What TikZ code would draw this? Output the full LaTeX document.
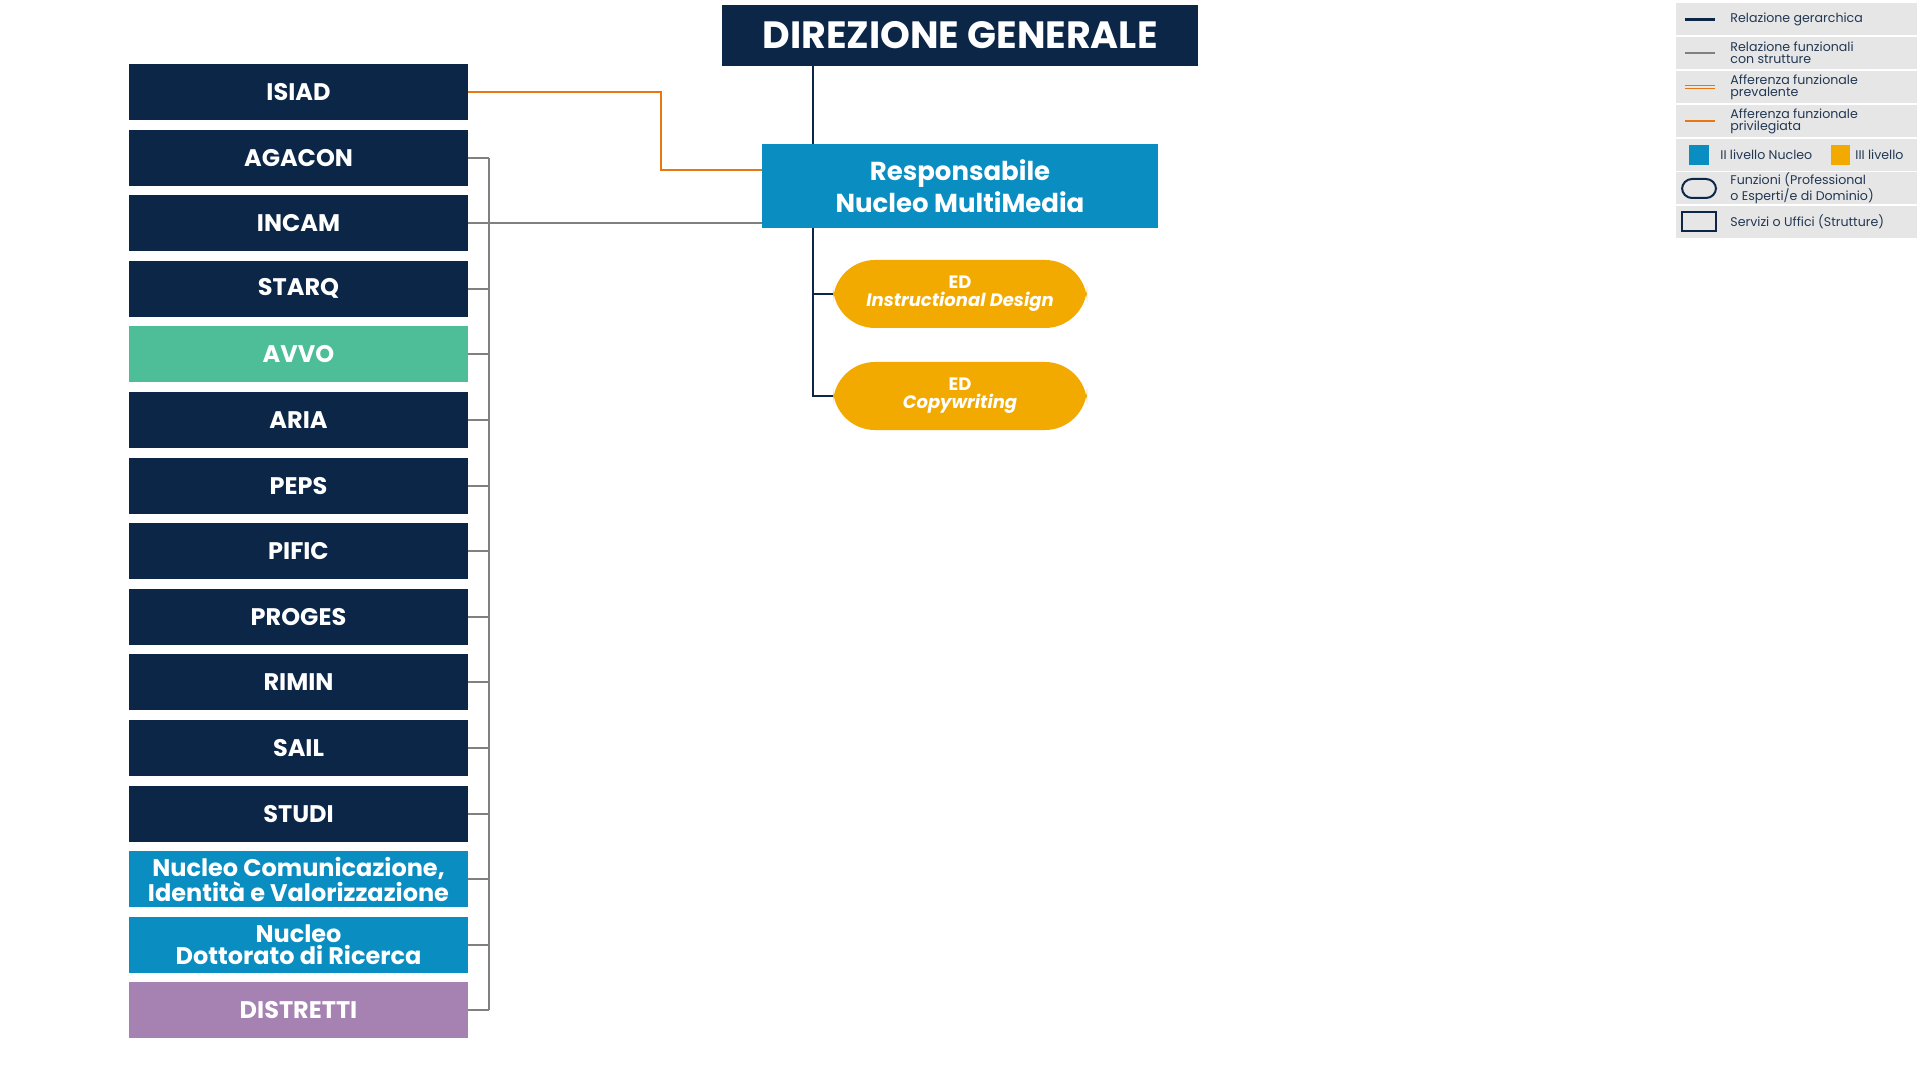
\documentclass[tikz,border=0pt]{standalone}
\usepackage{fontspec}
\setmainfont{Poppins}
\definecolor{dNavy}{HTML}{0C2648}
\definecolor{dBlue}{HTML}{0A8DC1}
\definecolor{dGreen}{HTML}{4DBE97}
\definecolor{dPurple}{HTML}{A682B3}
\definecolor{dGold}{HTML}{F2A900}
\definecolor{dOrange}{HTML}{E8770F}
\definecolor{dGray}{HTML}{808080}
\definecolor{dLegend}{HTML}{E6E6E6}
\tikzset{
  unitbox/.style={fill=#1, text=white, minimum width=169.5pt, minimum height=28pt,
    inner sep=1pt, align=center, font=\fontsize{12}{11}\selectfont\bfseries},
  edbox/.style={fill=dGold, text=white, rounded corners=21pt, minimum width=127pt,
    minimum height=34pt, align=center, font=\fontsize{9}{9}\selectfont\bfseries},
  hier/.style={dNavy, line width=1.3pt},
  func/.style={dGray, line width=1pt},
  priv/.style={dOrange, line width=1pt},
  legrow/.style={fill=dLegend, draw=white, line width=0.5pt},
  legtext/.style={anchor=west, text=dNavy!80!gray, align=left,
    font=\fontsize{6.3}{6}\selectfont, inner sep=0pt}
}
\begin{document}
\begin{tikzpicture}[x=0.5pt,y=-0.5pt]
  \useasboundingbox (0,0) rectangle (1920,1080);
  % Top of the chart
  \node[unitbox=dNavy, minimum width=238pt, minimum height=30.5pt,
    font=\fontsize{19}{19}\selectfont\bfseries] (dg) at (960,35.5) {DIREZIONE GENERALE};
  \node[unitbox=dBlue, minimum width=198pt, minimum height=42pt,
    font=\fontsize{13}{16}\selectfont\bfseries] (resp) at (960,186) {Responsabile\\Nucleo MultiMedia};
  \node[edbox] (ed1) at (960,294) {ED\\\itshape Instructional Design};
  \node[edbox] (ed2) at (960,396) {ED\\\itshape Copywriting};
  \draw[hier] (dg.south -| 813,0) -- (resp.north -| 813,0);
  \draw[hier] (resp.south -| 813,0) |- (ed1.west);
  \draw[hier] (resp.south -| 813,0) |- (ed2.west);
  % Units on the left
  \foreach \name/\col [count=\i] in {ISIAD/dNavy, AGACON/dNavy, INCAM/dNavy, STARQ/dNavy,
      AVVO/dGreen, ARIA/dNavy, PEPS/dNavy, PIFIC/dNavy, PROGES/dNavy, RIMIN/dNavy,
      SAIL/dNavy, STUDI/dNavy, {Nucleo Comunicazione,\\Identità e Valorizzazione}/dBlue,
      {Nucleo\\Dottorato di Ricerca}/dBlue, DISTRETTI/dPurple} {
    \node[unitbox=\col] (b\i) at (298.5,26.4+65.6*\i) {\name};
  }
  \node[unitbox=dBlue, font=\fontsize{12}{11}\selectfont\bfseries] at (b13) {Nucleo Comunicazione,\\Identità e Valorizzazione};
  \coordinate (bus) at (489,0);
  \foreach \i in {2,...,15} {
    \draw[func] (b\i.east) -- (b\i.east -| bus);
  }
  \draw[func] (b2.east -| bus) -- (b15.east -| bus);
  \draw[func] (b3.east) -- (resp.west |- b3.east);
  \draw[priv] (b1.east) -| (661,170) -- (resp.west |- 0,170);
  % Legend
  \foreach \top in {3,37,71,105,139,172,206} {
    \draw[legrow] (1675,\top) rectangle (1917,\top+33);
  }
  \draw[hier] (1685,19.5) -- (1715,19.5);
  \node[legtext] (l1) at (1730,19.5) {Relazione gerarchica};
  \draw[func] (1685,53) -- (1715,53);
  \node[legtext] (l2) at (1730,53) {Relazione funzionali\\con strutture};
  \draw[dOrange, line width=0.5pt] (1685,86) -- (1715,86);
  \draw[dOrange, line width=0.5pt] (1685,89) -- (1715,89);
  \node[legtext] (l3) at (1730,87.5) {Afferenza funzionale\\prevalente};
  \draw[priv] (1685,121) -- (1715,121);
  \node[legtext] (l4) at (1730,121) {Afferenza funzionale\\privilegiata};
  \fill[dBlue] (1689,145) rectangle (1709,165);
  \node[legtext] (l5) at (1720,155) {II livello Nucleo};
  \fill[dGold] (1831,145) rectangle (1850,165);
  \node[legtext] (l6) at (1855,155) {III livello};
  \draw[dNavy, line width=1pt, rounded corners=5pt] (1682,179) rectangle (1716,198);
  \node[legtext] (l7) at (1730,188.5) {Funzioni (Professional\\o Esperti/e di Dominio)};
  \draw[dNavy, line width=1pt] (1682,212) rectangle (1716,231);
  \node[legtext] (l8) at (1730,222) {Servizi o Uffici (Strutture)};
\end{tikzpicture}
\end{document}
